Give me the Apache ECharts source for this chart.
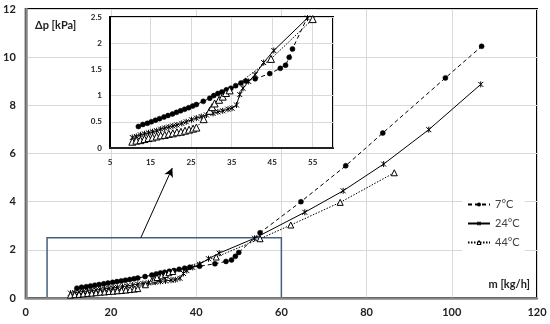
<!DOCTYPE html>
<html>
<head>
<meta charset="utf-8">
<script src="https://cdn.jsdelivr.net/npm/echarts@6/dist/echarts.min.js"></script>
<style>
html,body{margin:0;padding:0;background:#fff;}
#chart{width:550px;height:324px;}
</style>
</head>
<body>
<div id="chart"></div>
<script>
// 7°C series
const m7  = [12.0,13.1,14.2,15.2,16.2,17.2,18.3,19.3,20.4,21.4,22.4,23.4,24.4,25.4,26.3,28.0,29.6,30.6,31.6,32.6,33.7,34.8,36.0,37.3,38.5,40.8,44.4,47.0,48.3,49.2,50.0,55.0,64.6,75.1,83.8,98.5,107.0];
const dp7 = [0.41,0.45,0.47,0.50,0.53,0.56,0.59,0.62,0.65,0.68,0.71,0.74,0.77,0.80,0.83,0.89,0.95,1.00,1.04,1.07,1.11,1.14,1.19,1.24,1.28,1.32,1.42,1.52,1.58,1.73,1.89,2.71,4.00,5.49,6.85,9.14,10.45];
// 24°C series
const m24  = [10.5,11.5,12.5,13.5,14.5,15.5,16.5,17.5,18.5,19.5,20.5,21.5,22.7,23.8,25.1,26.3,27.5,28.8,30.4,31.6,32.8,34.1,35.1,36.2,37.0,37.8,39.2,40.8,42.9,45.4,53.7,65.5,74.5,84.0,94.6,106.8];
const dp24 = [0.20,0.22,0.25,0.27,0.29,0.31,0.33,0.36,0.38,0.40,0.42,0.44,0.47,0.50,0.54,0.57,0.60,0.63,0.66,0.69,0.71,0.74,0.76,0.82,1.02,1.14,1.27,1.40,1.63,1.86,2.48,3.56,4.45,5.56,6.99,8.87];
// 44°C series
const m44  = [10.5,11.5,12.5,13.5,14.5,15.5,16.5,17.5,18.5,19.5,20.5,21.5,22.5,23.5,24.5,25.5,26.3,28.1,29.6,30.2,30.8,31.9,32.8,33.6,34.5,44.7,55.0,62.2,73.8,86.5];
const dp44 = [0.12,0.14,0.15,0.17,0.19,0.20,0.22,0.24,0.25,0.27,0.28,0.30,0.31,0.33,0.35,0.37,0.39,0.55,0.71,0.78,0.85,0.92,0.98,1.05,1.10,1.70,2.46,3.03,3.97,5.20];

const seriesNames = ['7°C','24°C','44°C'];
const mainXTicks = {min:0, max:120, interval:20};
const mainYTicks = {min:0, max:12, interval:2};
const insetXTicks = {min:5, max:60, interval:10};
const insetYTicks = {min:0, max:2.5, interval:0.5};

const zip = (a,b) => a.map((v,i)=>[v,b[i]]);
const d7 = zip(m7,dp7), d24 = zip(m24,dp24), d44 = zip(m44,dp44);

const FONT = 'Lato, "Open Sans", "Noto Sans", sans-serif';
const starPath = 'path://M0,0L10,10M10,0L0,10M5,-1L5,11';

function mk(name, data, xi, yi, z, main) {
  const base = {
    name: name, type: 'line', data: data, xAxisIndex: xi, yAxisIndex: yi,
    z: z, clip: true, animation: false, showAllSymbol: true
  };
  if (name === '7°C') {
    Object.assign(base, {
      symbol: 'circle', symbolSize: 5,
      itemStyle: {color: '#000', borderColor: '#000', borderWidth: 0.5},
      lineStyle: {color: '#000', width: 1, type: [4,3]}
    });
  } else if (name === '24°C') {
    Object.assign(base, {
      symbol: starPath, symbolSize: 6, symbolKeepAspect: true,
      itemStyle: {color: 'rgba(0,0,0,0)', borderColor: '#000', borderWidth: 1},
      lineStyle: {color: '#000', width: 1, type: 'solid'}
    });
  } else {
    Object.assign(base, {
      symbol: 'triangle', symbolSize: main ? 6 : 7,
      itemStyle: {color: '#fff', borderColor: '#000', borderWidth: 1},
      lineStyle: {color: '#000', width: 1, type: [1.5,1.5]}
    });
  }
  return base;
}

const s7main = mk('7°C', d7, 0, 0, 3, true);
s7main.markArea = {
  silent: true,
  itemStyle: {color: 'rgba(0,0,0,0)', borderColor: '#44607a', borderWidth: 1.5},
  data: [[{coord: [5, 0]}, {coord: [60, 2.5]}]]
};
s7main.markLine = {
  silent: true, symbol: ['none','arrow'], symbolSize: [7, 9],
  label: {show: false},
  lineStyle: {color: '#000', width: 1, type: 'solid'},
  data: [[{coord: [27, 2.5]}, {coord: [34.4, 5.4]}]]
};

const chart = echarts.init(document.getElementById('chart'), null, {renderer: 'canvas'});
const axisLabelMain = {fontSize: 11, fontWeight: 'bold', color: '#222', fontFamily: FONT};
const axisLabelInset = {fontSize: 8, fontWeight: 'bold', color: '#222', fontFamily: FONT};
const gridLine = {show: true, lineStyle: {color: '#d9d9d9', width: 1}};

chart.setOption({
  animation: false,
  backgroundColor: '#fff',
  grid: [
    {left: 25, right: 13, top: 9, bottom: 26, show: true, borderColor: '#000', borderWidth: 2, backgroundColor: '#fff', z: 0},
    {left: 110, right: 217, top: 17, bottom: 176, show: true, borderColor: '#000', borderWidth: 2, backgroundColor: '#fff', z: 5}
  ],
  legend: {
    data: [
      {name: '7°C', itemStyle: {color: '#000', borderColor: '#000', borderWidth: 0}},
      {name: '24°C', itemStyle: {color: 'rgba(0,0,0,0)', borderColor: '#000', borderWidth: 1}},
      {name: '44°C', itemStyle: {color: '#fff', borderColor: '#000', borderWidth: 1}}
    ],
    orient: 'vertical', left: 462, top: 196,
    itemWidth: 22, itemHeight: 5, itemGap: 8, padding: [3, 5],
    backgroundColor: '#fff',
    textStyle: {fontSize: 11, color: '#404040', fontFamily: FONT}
  },
  xAxis: [
    {type: 'value', gridIndex: 0, min: mainXTicks.min, max: mainXTicks.max, interval: mainXTicks.interval,
     axisLine: {show: true, onZero: false, lineStyle: {color: '#888', width: 2.5}},
     axisTick: {show: false}, axisLabel: Object.assign({margin: 9}, axisLabelMain), splitLine: gridLine, z: 1},
    {type: 'value', gridIndex: 1, min: insetXTicks.min, max: insetXTicks.max, interval: insetXTicks.interval,
     axisLine: {show: true, onZero: false, lineStyle: {color: '#222', width: 2}},
     axisTick: {show: false}, axisLabel: Object.assign({margin: 10, showMaxLabel: false}, axisLabelInset), splitLine: gridLine, z: 6}
  ],
  yAxis: [
    {type: 'value', gridIndex: 0, min: mainYTicks.min, max: mainYTicks.max, interval: mainYTicks.interval,
     axisLine: {show: true, onZero: false, lineStyle: {color: '#888', width: 2.5}},
     axisTick: {show: false}, axisLabel: Object.assign({margin: 10}, axisLabelMain), splitLine: gridLine, z: 1},
    {type: 'value', gridIndex: 1, min: insetYTicks.min, max: insetYTicks.max, interval: insetYTicks.interval,
     axisLine: {show: true, onZero: false, lineStyle: {color: '#000', width: 2}},
     axisTick: {show: false}, axisLabel: Object.assign({margin: 8}, axisLabelInset), splitLine: gridLine, z: 6}
  ],
  graphic: [
    {type: 'text', left: 35, top: 20, z: 10, style: {text: 'Δp [kPa]', fill: '#222', font: 'bold 11px ' + FONT}},
    {type: 'text', right: 20, top: 279, z: 10, style: {text: 'm [kg/h]', fill: '#222', font: 'bold 11px ' + FONT}}
  ],
  series: [
    s7main,
    mk('24°C', d24, 0, 0, 3, true),
    mk('44°C', d44, 0, 0, 3, true),
    mk('7°C', d7, 1, 1, 7, false),
    mk('24°C', d24, 1, 1, 7, false),
    mk('44°C', d44, 1, 1, 7, false)
  ]
});
</script>
</body>
</html>
